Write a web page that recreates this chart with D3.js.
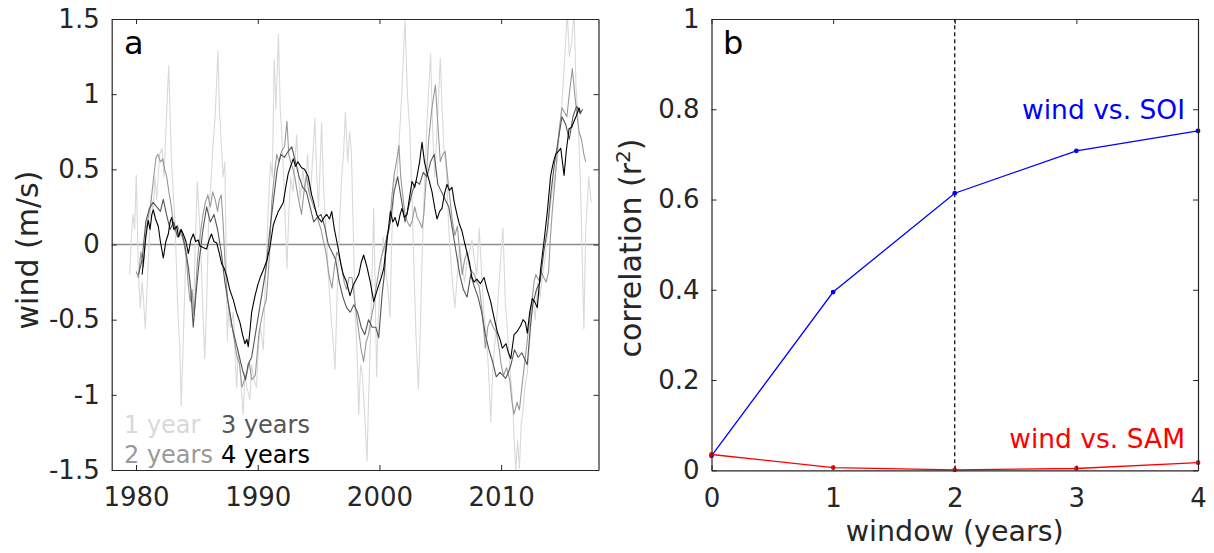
<!DOCTYPE html>
<html>
<head>
<meta charset="utf-8">
<script src="https://cdn.jsdelivr.net/npm/d3@7"></script>
<style>
  body { margin: 0; background: #fff; }
  svg { display: block; font-family: "DejaVu Sans", sans-serif; }
</style>
</head>
<body>
<svg id="chart" width="1214" height="553"></svg>
<script>
// ---- panel a: wind anomaly (m/s), running means, [year, value]
const oneYear = [
  [1979.48,-0.20],[1979.62,0.05],[1979.75,0.20],[1979.88,0.10],[1980.02,0.46],[1980.2,-0.20],[1980.35,-0.42],
  [1980.5,-0.25],[1980.6,-0.35],[1980.76,-0.56],[1980.9,-0.30],[1981.0,-0.13],[1981.12,0.10],[1981.25,0.33],
  [1981.4,0.20],[1981.55,0.45],[1981.7,0.30],[1981.94,0.60],[1982.13,0.64],[1982.3,0.45],[1982.45,0.75],
  [1982.68,1.19],[1982.9,0.58],[1983.05,0.35],[1983.2,0.15],[1983.45,-0.47],[1983.6,-0.70],[1983.72,-1.07],
  [1983.84,-0.75],[1983.94,-0.47],[1984.1,-0.07],[1984.25,-0.15],[1984.4,-0.25],[1984.55,-0.35],[1984.7,-0.47],
  [1984.85,-0.05],[1985.03,0.42],[1985.15,0.25],[1985.3,0.02],[1985.45,-0.35],[1985.64,-0.76],[1985.8,-0.40],
  [1986.0,0.26],[1986.15,0.40],[1986.3,0.64],[1986.5,0.85],[1986.73,1.29],[1986.85,0.90],[1987.0,0.68],
  [1987.15,0.45],[1987.3,0.55],[1987.5,-0.64],[1987.62,-0.40],[1987.75,-0.55],[1988.0,-0.45],[1988.15,-0.75],
  [1988.27,-0.95],[1988.4,-0.70],[1988.55,-0.85],[1988.8,-1.13],[1988.95,-0.85],[1989.1,-0.95],[1989.36,-1.03],
  [1989.5,-0.80],[1989.7,-0.90],[1989.9,-0.95],[1990.05,-0.70],[1990.2,-0.55],[1990.46,-0.70],[1990.6,-0.30],
  [1990.75,0.00],[1990.9,0.30],[1991.05,0.55],[1991.2,0.45],[1991.35,1.23],[1991.5,0.90],[1991.7,1.40],
  [1991.85,0.90],[1992.0,0.70],[1992.2,0.30],[1992.4,-0.16],[1992.55,0.20],[1992.7,0.45],[1992.9,0.35],
  [1993.05,0.55],[1993.2,0.73],[1993.35,0.45],[1993.5,0.30],[1993.7,0.50],[1993.9,0.35],[1994.1,0.60],
  [1994.3,0.30],[1994.5,0.55],[1994.7,0.84],[1994.85,0.45],[1995.0,0.25],[1995.25,0.81],[1995.4,0.40],
  [1995.6,0.10],[1995.8,-0.20],[1996.0,-0.45],[1996.15,-0.60],[1996.35,-0.83],[1996.5,-0.40],[1996.7,0.10],
  [1996.9,0.45],[1997.05,0.60],[1997.2,0.88],[1997.4,0.55],[1997.55,0.75],[1997.7,0.60],[1997.85,0.10],
  [1998.0,-0.45],[1998.15,-0.69],[1998.3,-1.13],[1998.45,-0.80],[1998.6,-0.87],[1998.8,-1.15],[1998.98,-1.44],
  [1999.1,-1.05],[1999.3,-0.50],[1999.53,0.24],[1999.65,-0.30],[1999.77,-0.88],[1999.9,-0.50],[2000.1,-0.20],
  [2000.3,0.05],[2000.5,-0.15],[2000.7,-0.30],[2000.87,-0.48],[2001.0,0.00],[2001.2,0.45],[2001.4,0.40],
  [2001.6,0.66],[2001.8,0.95],[2002.1,1.49],[2002.3,1.00],[2002.5,0.75],[2002.7,0.25],[2002.85,-0.20],
  [2003.0,-0.60],[2003.2,-0.96],[2003.35,-0.60],[2003.5,-0.10],[2003.7,0.40],[2003.9,0.80],[2004.2,1.27],
  [2004.4,0.70],[2004.55,0.45],[2004.75,0.80],[2005.0,1.24],[2005.15,0.90],[2005.3,0.63],[2005.5,0.50],
  [2005.7,0.10],[2005.9,-0.15],[2006.05,-0.30],[2006.2,-0.42],[2006.4,-0.20],[2006.6,0.00],[2006.8,-0.15],
  [2007.0,-0.25],[2007.2,-0.10],[2007.4,-0.05],[2007.6,0.03],[2007.8,-0.10],[2008.0,-0.20],[2008.2,0.11],
  [2008.4,-0.20],[2008.6,-0.47],[2008.86,-0.69],[2009.0,-0.90],[2009.14,-1.18],[2009.3,-0.85],[2009.45,-0.69],
  [2009.6,-0.55],[2009.8,-0.30],[2010.0,-0.05],[2010.15,0.11],[2010.35,-0.40],[2010.5,-0.55],[2010.7,-0.80],
  [2010.92,-1.02],[2011.05,-1.25],[2011.2,-1.51],[2011.35,-1.30],[2011.5,-1.49],[2011.65,-1.20],[2011.8,-1.10],
  [2011.95,-0.95],[2012.15,-0.85],[2012.35,-0.65],[2012.6,-0.34],[2012.8,-0.50],[2013.0,-0.25],[2013.2,-0.35],
  [2013.4,-0.20],[2013.6,-0.10],[2013.9,0.15],[2014.1,0.30],[2014.3,0.40],[2014.6,0.55],[2014.8,0.75],
  [2015.0,0.95],[2015.2,1.20],[2015.43,1.55],[2015.6,1.25],[2015.8,1.35],[2016.0,1.55],[2016.15,1.05],
  [2016.35,0.80],[2016.55,0.30],[2016.8,-0.56],[2016.95,0.10],[2017.2,0.45],[2017.4,0.28]
];

const twoYears = [
  [1980.0,-0.18],[1980.2,-0.22],[1980.4,-0.05],[1980.6,-0.15],[1980.85,0.11],[1981.05,0.20],[1981.25,0.30],
  [1981.45,0.45],[1981.65,0.58],[1981.8,0.60],[1982.0,0.55],[1982.2,0.57],[1982.35,0.50],[1982.5,0.46],
  [1982.7,0.35],[1982.9,0.25],[1983.05,0.15],[1983.2,0.09],[1983.4,0.13],[1983.6,0.08],[1983.8,0.05],
  [1984.0,-0.02],[1984.15,-0.10],[1984.27,-0.25],[1984.45,-0.38],[1984.6,-0.30],[1984.77,-0.47],[1984.9,-0.30],
  [1985.05,-0.10],[1985.25,0.05],[1985.5,0.20],[1985.7,0.28],[1985.9,0.33],[1986.1,0.25],[1986.3,0.35],
  [1986.5,0.30],[1986.7,0.22],[1986.85,0.30],[1987.0,0.33],[1987.15,0.15],[1987.3,-0.10],[1987.5,-0.35],
  [1987.7,-0.45],[1987.9,-0.55],[1988.1,-0.65],[1988.3,-0.75],[1988.5,-0.79],[1988.7,-0.95],[1988.9,-0.90],
  [1989.1,-0.86],[1989.3,-0.78],[1989.5,-0.90],[1989.8,-0.87],[1990.1,-0.59],[1990.3,-0.50],[1990.5,-0.42],
  [1990.7,-0.37],[1990.9,-0.15],[1991.0,0.00],[1991.15,0.28],[1991.35,0.45],[1991.56,0.60],[1991.75,0.55],
  [1991.95,0.62],[1992.2,0.65],[1992.4,0.82],[1992.55,0.60],[1992.7,0.55],[1992.9,0.50],[1993.05,0.45],
  [1993.2,0.37],[1993.4,0.28],[1993.6,0.20],[1993.8,0.35],[1994.0,0.46],[1994.2,0.35],[1994.4,0.30],
  [1994.6,0.25],[1994.8,0.22],[1995.0,0.15],[1995.2,0.10],[1995.4,0.02],[1995.6,-0.05],[1995.85,-0.20],
  [1996.1,-0.29],[1996.3,-0.15],[1996.5,-0.05],[1996.7,-0.08],[1996.9,-0.15],[1997.1,-0.25],[1997.3,-0.30],
  [1997.5,-0.22],[1997.75,-0.22],[1998.0,-0.40],[1998.3,-0.58],[1998.5,-0.70],[1998.7,-0.78],[1998.9,-0.65],
  [1999.1,-0.60],[1999.3,-0.50],[1999.5,-0.42],[1999.7,-0.30],[1999.9,-0.20],[2000.1,-0.10],[2000.35,-0.03],
  [2000.6,0.05],[2000.8,0.10],[2001.0,0.30],[2001.2,0.46],[2001.4,0.55],[2001.6,0.66],[2001.75,0.45],
  [2001.95,0.30],[2002.1,0.20],[2002.3,0.15],[2002.5,0.12],[2002.7,0.16],[2002.9,0.25],[2003.1,0.18],
  [2003.3,0.15],[2003.5,0.11],[2003.65,0.20],[2003.85,0.45],[2004.05,0.70],[2004.3,0.90],[2004.6,1.06],
  [2004.8,0.80],[2005.0,0.55],[2005.2,0.60],[2005.4,0.62],[2005.6,0.45],[2005.8,0.30],[2006.0,0.15],
  [2006.2,0.06],[2006.4,0.12],[2006.6,-0.05],[2006.8,-0.20],[2007.0,-0.10],[2007.2,-0.05],[2007.4,-0.15],
  [2007.6,-0.18],[2007.8,-0.20],[2008.0,-0.25],[2008.2,-0.28],[2008.45,-0.45],[2008.7,-0.69],[2008.9,-0.55],
  [2009.1,-0.50],[2009.35,-0.55],[2009.6,-0.58],[2009.85,-0.70],[2010.0,-0.80],[2010.2,-0.87],[2010.45,-0.82],
  [2010.7,-0.90],[2010.9,-1.05],[2011.06,-1.13],[2011.3,-1.05],[2011.5,-1.10],[2011.7,-0.95],[2012.0,-0.74],
  [2012.2,-0.60],[2012.5,-0.40],[2012.7,-0.25],[2012.85,-0.20],[2013.1,-0.24],[2013.3,-0.18],[2013.5,-0.22],
  [2013.7,-0.25],[2013.9,-0.18],[2014.05,0.05],[2014.2,0.22],[2014.4,0.40],[2014.6,0.60],[2014.75,0.75],
  [2015.0,0.91],[2015.2,0.88],[2015.4,0.85],[2015.6,1.00],[2015.85,1.17],[2016.05,1.00],[2016.25,0.85],
  [2016.4,0.75],[2016.6,0.70],[2016.8,0.60],[2016.95,0.55]
];

const threeYears = [
  [1980.2,-0.20],[1980.5,-0.10],[1980.8,0.15],[1981.1,0.24],[1981.4,0.28],[1981.7,0.25],[1982.0,0.22],
  [1982.24,0.30],[1982.5,0.20],[1982.8,0.10],[1983.1,0.15],[1983.4,0.05],[1983.7,0.10],[1984.0,0.00],
  [1984.3,-0.15],[1984.5,-0.30],[1984.7,-0.55],[1984.9,-0.35],[1985.2,-0.10],[1985.5,0.10],[1985.8,0.25],
  [1986.1,0.15],[1986.4,0.20],[1986.7,0.10],[1987.0,-0.05],[1987.3,-0.25],[1987.6,-0.40],[1987.9,-0.55],
  [1988.2,-0.65],[1988.5,-0.75],[1988.8,-0.85],[1989.0,-0.90],[1989.2,-0.80],[1989.5,-0.75],[1989.8,-0.60],
  [1990.1,-0.45],[1990.4,-0.30],[1990.7,-0.15],[1991.0,0.10],[1991.3,0.30],[1991.6,0.50],[1991.9,0.60],
  [1992.2,0.58],[1992.5,0.62],[1992.8,0.65],[1993.1,0.55],[1993.4,0.45],[1993.7,0.38],[1994.0,0.35],
  [1994.3,0.25],[1994.6,0.15],[1994.9,0.18],[1995.2,0.20],[1995.5,0.12],[1995.8,0.00],[1996.1,-0.05],
  [1996.4,-0.10],[1996.7,-0.25],[1997.0,-0.35],[1997.3,-0.42],[1997.6,-0.45],[1997.9,-0.40],[1998.2,-0.45],
  [1998.5,-0.55],[1998.8,-0.60],[1999.1,-0.50],[1999.4,-0.55],[1999.7,-0.55],[1999.94,-0.62],[2000.2,-0.35],
  [2000.4,-0.20],[2000.6,0.05],[2000.9,0.15],[2001.2,0.35],[2001.5,0.45],[2001.8,0.30],[2002.1,0.15],
  [2002.4,0.25],[2002.7,0.35],[2003.0,0.42],[2003.3,0.40],[2003.6,0.48],[2003.9,0.45],[2004.2,0.55],
  [2004.5,0.60],[2004.8,0.40],[2005.1,0.35],[2005.4,0.30],[2005.7,0.25],[2006.0,0.10],[2006.3,-0.05],
  [2006.6,-0.20],[2006.9,-0.30],[2007.2,-0.35],[2007.5,-0.20],[2007.8,-0.28],[2008.1,-0.35],[2008.4,-0.45],
  [2008.7,-0.60],[2009.0,-0.70],[2009.3,-0.78],[2009.6,-0.88],[2009.9,-0.85],[2010.37,-0.89],[2010.6,-0.85],
  [2010.8,-0.80],[2011.1,-0.70],[2011.4,-0.75],[2011.7,-0.72],[2012.15,-0.80],[2012.4,-0.55],[2012.6,-0.40],
  [2012.9,-0.30],[2013.2,-0.25],[2013.5,-0.05],[2013.8,0.10],[2014.1,0.35],[2014.4,0.55],[2014.7,0.70],
  [2015.0,0.85],[2015.3,0.80],[2015.6,0.70],[2015.9,0.85],[2016.2,0.92],[2016.5,0.87],[2016.7,0.90]
];

const fourYears = [
  [1980.5,-0.20],[1980.65,-0.08],[1980.8,0.05],[1981.0,0.16],[1981.15,0.10],[1981.3,0.20],[1981.42,0.23],
  [1981.6,0.17],[1981.83,0.12],[1982.0,0.02],[1982.24,-0.09],[1982.45,0.02],[1982.65,0.07],[1982.8,0.15],
  [1982.93,0.18],[1983.1,0.10],[1983.34,0.12],[1983.5,0.05],[1983.7,0.10],[1983.88,0.07],[1984.1,0.02],
  [1984.3,-0.06],[1984.5,0.03],[1984.7,0.07],[1984.9,0.02],[1985.1,0.03],[1985.26,-0.01],[1985.5,-0.02],
  [1985.8,-0.03],[1986.0,0.03],[1986.2,0.07],[1986.4,0.02],[1986.63,0.01],[1986.85,-0.06],[1987.04,-0.13],
  [1987.25,-0.16],[1987.45,-0.21],[1987.7,-0.30],[1988.0,-0.37],[1988.25,-0.45],[1988.54,-0.52],[1988.75,-0.60],
  [1988.95,-0.66],[1989.1,-0.63],[1989.22,-0.68],[1989.35,-0.58],[1989.5,-0.45],[1989.78,-0.34],[1990.0,-0.27],
  [1990.2,-0.22],[1990.46,-0.17],[1990.74,-0.11],[1991.0,-0.02],[1991.28,0.13],[1991.5,0.18],[1991.69,0.22],
  [1991.9,0.25],[1992.1,0.28],[1992.3,0.38],[1992.5,0.47],[1992.7,0.52],[1992.92,0.57],[1993.1,0.52],
  [1993.3,0.55],[1993.6,0.51],[1993.85,0.50],[1994.15,0.45],[1994.43,0.33],[1994.6,0.28],[1994.84,0.20],
  [1995.05,0.17],[1995.25,0.15],[1995.45,0.18],[1995.67,0.20],[1995.9,0.17],[1996.08,0.22],[1996.3,0.10],
  [1996.62,-0.03],[1996.85,-0.14],[1997.03,-0.20],[1997.3,-0.25],[1997.58,-0.34],[1997.85,-0.27],[1998.05,-0.24],
  [1998.3,-0.20],[1998.5,-0.12],[1998.7,-0.07],[1998.98,-0.15],[1999.25,-0.25],[1999.53,-0.38],[1999.75,-0.32],
  [1999.94,-0.27],[2000.15,-0.22],[2000.35,-0.16],[2000.62,0.02],[2000.9,0.22],[2001.1,0.15],[2001.28,0.18],
  [2001.5,0.12],[2001.7,0.20],[2001.85,0.24],[2002.05,0.18],[2002.26,0.20],[2002.45,0.30],[2002.68,0.42],
  [2002.9,0.38],[2003.08,0.45],[2003.3,0.55],[2003.5,0.68],[2003.7,0.55],[2003.9,0.48],[2004.1,0.42],
  [2004.32,0.35],[2004.55,0.24],[2004.73,0.17],[2004.95,0.22],[2005.14,0.24],[2005.35,0.34],[2005.55,0.40],
  [2005.75,0.36],[2005.96,0.38],[2006.15,0.28],[2006.37,0.20],[2006.55,0.14],[2006.78,0.09],[2007.0,0.01],
  [2007.19,-0.05],[2007.4,-0.12],[2007.6,-0.22],[2007.77,-0.25],[2008.0,-0.23],[2008.3,-0.26],[2008.6,-0.22],
  [2008.85,-0.30],[2009.14,-0.38],[2009.4,-0.48],[2009.68,-0.58],[2009.9,-0.63],[2010.1,-0.69],[2010.4,-0.66],
  [2010.6,-0.72],[2010.79,-0.76],[2011.06,-0.60],[2011.3,-0.58],[2011.6,-0.54],[2011.8,-0.50],[2012.0,-0.52],
  [2012.15,-0.59],[2012.35,-0.45],[2012.56,-0.36],[2012.75,-0.38],[2012.97,-0.42],[2013.1,-0.30],[2013.25,-0.16],
  [2013.52,0.02],[2013.8,0.22],[2014.07,0.46],[2014.3,0.55],[2014.48,0.60],[2014.7,0.62],[2014.9,0.64],
  [2015.17,0.46],[2015.35,0.62],[2015.58,0.77],[2015.8,0.78],[2015.99,0.82],[2016.2,0.86],[2016.4,0.91],
  [2016.5,0.88]
];

const windLabels = ['1 year', '2 years', '3 years', '4 years'];
const windColors = ['#d9d9d9', '#999999', '#555555', '#000000'];
const yearTicks = [1980, 1990, 2000, 2010];
const windTicks = [-1.5, -1, -0.5, 0, 0.5, 1, 1.5];

// ---- panel b: correlation (r^2) against smoothing window
const windows = [0, 1, 2, 3, 4];
const soiR2 = [0.032, 0.395, 0.614, 0.708, 0.752];
const samR2 = [0.035, 0.006, 0.001, 0.004, 0.017];
const corrTicks = [0, 0.2, 0.4, 0.6, 0.8, 1];

const svg = d3.select('#chart');
const ink = '#262626';
const fmt = function (d) { return String(d); };

// ================= panel a =================
const xA = d3.scaleLinear().domain([1978, 2018]).range([111.7, 598.5]);
const yA = d3.scaleLinear().domain([-1.5, 1.5]).range([470, 19]);

svg.append('clipPath').attr('id', 'clipA')
  .append('rect')
    .attr('x', 111.7).attr('y', 19)
    .attr('width', 598.5 - 111.7).attr('height', 470 - 19);

const gA = svg.append('g');

const lineA = d3.line()
  .x(function (d) { return xA(d[0]); })
  .y(function (d) { return yA(d[1]); });

const plotA = gA.append('g').attr('clip-path', 'url(#clipA)');

plotA.append('line')
  .attr('x1', xA(1978)).attr('x2', xA(2018))
  .attr('y1', yA(0)).attr('y2', yA(0))
  .attr('stroke', '#8c8c8c').attr('stroke-width', 1.5);

[oneYear, twoYears, threeYears, fourYears].forEach(function (s, i) {
  plotA.append('path')
    .datum(s)
    .attr('d', lineA)
    .attr('fill', 'none')
    .attr('stroke', windColors[i])
    .attr('stroke-width', 1.1)
    .attr('stroke-linejoin', 'round');
});

function frame(g, x, y, xt, yt, xfmt, yfmt) {
  const x0 = x.range()[0], x1 = x.range()[1];
  const y0 = y.range()[0], y1 = y.range()[1];
  g.append('g').attr('transform', 'translate(0,' + y0 + ')')
    .call(d3.axisBottom(x).tickValues(xt).tickFormat(xfmt).tickSizeInner(-5).tickSizeOuter(0).tickPadding(18));
  g.append('g').attr('transform', 'translate(0,' + y1 + ')')
    .call(d3.axisTop(x).tickValues(xt).tickFormat('').tickSizeInner(-5).tickSizeOuter(0));
  g.append('g').attr('transform', 'translate(' + x0 + ',0)')
    .call(d3.axisLeft(y).tickValues(yt).tickFormat(yfmt).tickSizeInner(-5).tickSizeOuter(0).tickPadding(12));
  g.append('g').attr('transform', 'translate(' + x1 + ',0)')
    .call(d3.axisRight(y).tickValues(yt).tickFormat('').tickSizeInner(-5).tickSizeOuter(0));
  g.selectAll('.domain').attr('stroke', ink).attr('stroke-width', 1.2);
  g.selectAll('.tick line').attr('stroke', ink);
  g.selectAll('.tick text')
    .attr('fill', ink)
    .style('font-family', '"DejaVu Sans", sans-serif')
    .style('font-size', '26px');
}

frame(gA, xA, yA, yearTicks, windTicks, fmt, fmt);

gA.append('text')
  .attr('x', 124).attr('y', 54)
  .attr('font-size', 32).attr('fill', '#000')
  .text('a');

gA.append('text')
  .attr('transform', 'translate(38,250) rotate(-90)')
  .attr('text-anchor', 'middle')
  .attr('font-size', 30).attr('fill', ink)
  .text('wind (m/s)');

// legend as coloured words
const legendPos = [[124, 433], [124, 463], [221, 433], [221, 463]];
windLabels.forEach(function (lab, i) {
  gA.append('text')
    .attr('x', legendPos[i][0]).attr('y', legendPos[i][1])
    .attr('font-size', 24)
    .attr('fill', windColors[i])
    .text(lab);
});

// ================= panel b =================
const xB = d3.scaleLinear().domain([0, 4]).range([711.5, 1198]);
const yB = d3.scaleLinear().domain([0, 1]).range([470.3, 19]);
const gB = svg.append('g');

gB.append('line')
  .attr('x1', xB(2)).attr('x2', xB(2))
  .attr('y1', yB(0)).attr('y2', yB(1))
  .attr('stroke', '#000').attr('stroke-width', 1.2)
  .attr('stroke-dasharray', '4,3');

const lineB = d3.line()
  .x(function (d, i) { return xB(windows[i]); })
  .y(function (d) { return yB(d); });

[[soiR2, '#0000ff'], [samR2, '#ff0000']].forEach(function (s) {
  gB.append('path')
    .datum(s[0])
    .attr('d', lineB)
    .attr('fill', 'none')
    .attr('stroke', s[1])
    .attr('stroke-width', 1.3);
  gB.selectAll(null)
    .data(s[0])
    .join('circle')
    .attr('cx', function (d, i) { return xB(windows[i]); })
    .attr('cy', function (d) { return yB(d); })
    .attr('r', 2.4)
    .attr('fill', s[1]);
});

frame(gB, xB, yB, windows, corrTicks, fmt, fmt);

gB.append('text')
  .attr('x', 723).attr('y', 54)
  .attr('font-size', 32).attr('fill', '#000')
  .text('b');

gB.append('text')
  .attr('x', 1185).attr('y', 119)
  .attr('text-anchor', 'end')
  .attr('font-size', 26.5).attr('fill', '#0000ff')
  .text('wind vs. SOI');

gB.append('text')
  .attr('x', 1185).attr('y', 448)
  .attr('text-anchor', 'end')
  .attr('font-size', 26.5).attr('fill', '#ff0000')
  .text('wind vs. SAM');

gB.append('text')
  .attr('x', xB(2)).attr('y', 541)
  .attr('text-anchor', 'middle')
  .attr('font-size', 28.5).attr('fill', ink)
  .text('window (years)');

const yLab = gB.append('text')
  .attr('transform', 'translate(641,248) rotate(-90)')
  .attr('text-anchor', 'middle')
  .attr('font-size', 30).attr('fill', ink);
yLab.append('tspan').text('correlation (r');
yLab.append('tspan').attr('font-size', 20).attr('dy', -11).text('2');
yLab.append('tspan').attr('dy', 11).text(')');
</script>
</body>
</html>
